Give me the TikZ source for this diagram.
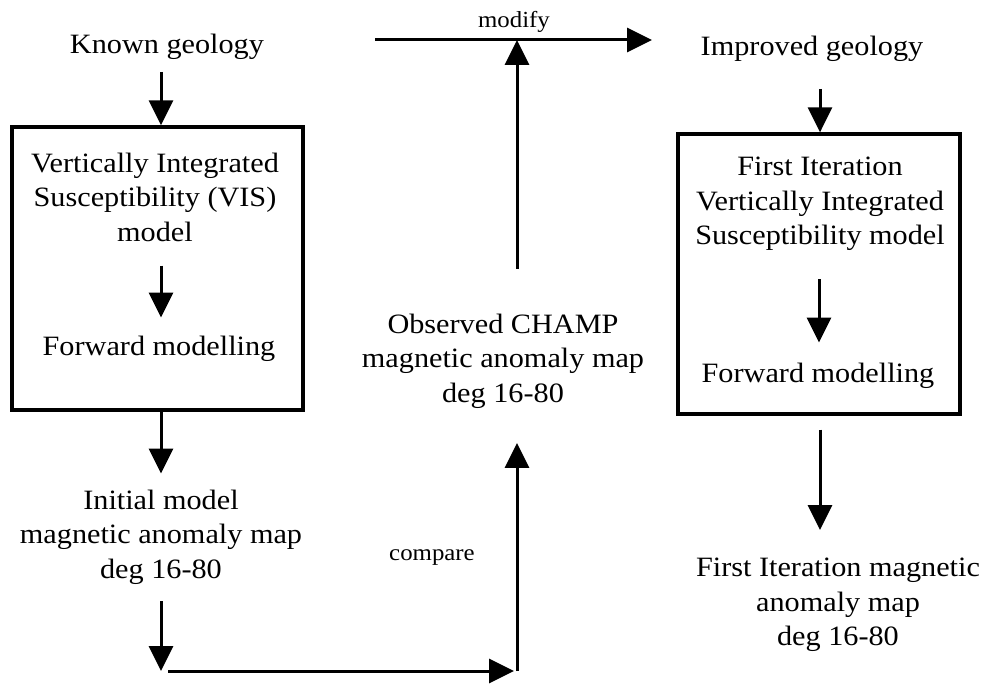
\documentclass[tikz,border=0pt]{standalone}
\usepackage{fontspec}
\setmainfont[FakeStretch=1.08]{Liberation Serif}
\usetikzlibrary{arrows.meta,calc}
\begin{document}
\begin{tikzpicture}[x=1pt,y=-1pt,
  txt/.style={align=center,font=\fontsize{28}{34.5}\selectfont,inner sep=0pt},
  small/.style={font=\fontsize{23}{26}\selectfont,inner sep=0pt},
  frame/.style={draw,line width=3.3pt,inner sep=0pt},
  arr/.style={line width=3pt,-{Triangle[length=25pt,width=24pt]}},
  seg/.style={line width=3pt}]
\fill[white] (0,0) rectangle (991,684);
\useasboundingbox (0,0) rectangle (991,684);

% left column
\node[txt] (known) at (167,47) {Known geology};
\node[frame,minimum width=291pt,minimum height=283pt] (box1) at (157.5,268.5) {};
\node[txt] (vis) at (155,197) {Vertically Integrated\\Susceptibility (VIS)\\model};
\node[txt] (fwd1) at (159,349) {Forward modelling};
\node[txt] (init) at (161,537) {Initial model\\magnetic anomaly map\\deg 16-80};

% middle column
\node[txt] (obs) at (503,361) {Observed CHAMP\\magnetic anomaly map\\deg 16-80};
\node[small] (cmp) at (432,558) {compare};
\node[small] (mod) at (514,22) {modify};
\coordinate (mstart) at (375,40);
\coordinate (mend) at (652,40);
\coordinate (c1) at (161,671);
\coordinate (c2) at (517,671);

% right column
\node[txt] (impr) at (812,49) {Improved geology};
\node[frame,minimum width=282pt,minimum height=280pt] (box2) at (819,274) {};
\node[txt] (fi) at (820,204) {First Iteration\\Vertically Integrated\\Susceptibility model};
\node[txt] (fwd2) at (818,376) {Forward modelling};
\node[txt] (fim) at (838,605) {First Iteration magnetic\\anomaly map\\deg 16-80};

% connectors left
\draw[arr,shorten <=12pt] ([xshift=-6pt]known.south) -- ([xshift=-6pt]known.south |- box1.north);
\draw[arr,shorten <=24pt,shorten >=18.5pt] ([xshift=6pt]vis.south) -- ([xshift=6pt]vis.south |- fwd1.north);
\draw[arr,shorten >=16pt] (box1.south -| init) -- (init.north);
\draw[arr,shorten <=17pt] (init.south) -- (c1);
\draw[arr,shorten <=7pt,shorten >=3pt] (c1) -- (c2);
\draw[arr,shorten >=34.5pt] (c2) -- (c2 |- obs.south);

% connectors middle
\draw[arr] (mstart) -- (mend);
\draw[arr,shorten <=45pt] ([xshift=14pt]obs.north) -- ([xshift=14pt]obs.north |- mstart);

% connectors right
\draw[arr,shorten <=27pt] ([xshift=8pt]impr.south) -- ([xshift=8pt]impr.south |- box2.north);
\draw[arr,shorten <=28.5pt,shorten >=20.5pt] ([xshift=-1pt]fi.south) -- ([xshift=-1pt]fi.south |- fwd2.north);
\draw[arr,shorten <=14pt,shorten >=28pt] ([xshift=1pt]box2.south) -- ([xshift=1pt]box2.south |- fim.north);
\end{tikzpicture}
\end{document}
